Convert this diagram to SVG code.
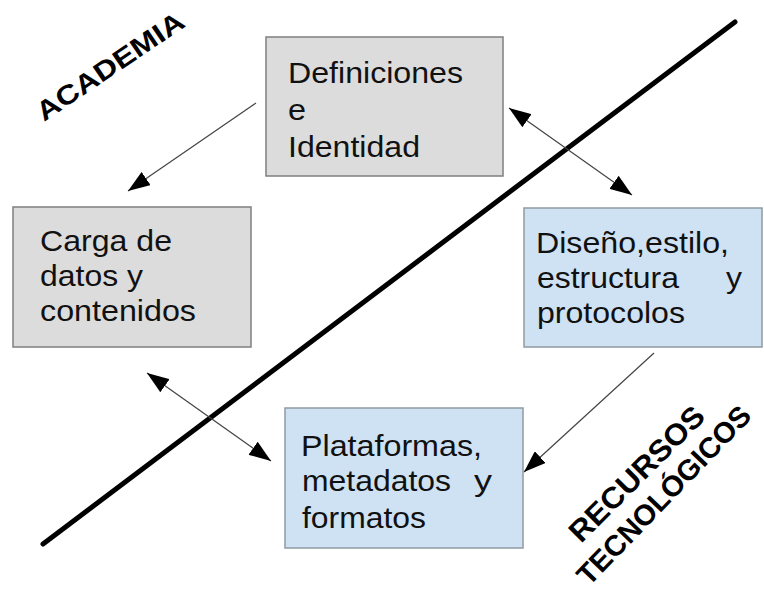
<svg xmlns="http://www.w3.org/2000/svg" width="764" height="592" viewBox="0 0 764 592">
<defs>
<style>
.box-gray{fill:#dcdcdc;stroke:#7f7f7f;stroke-width:1.5}
.box-blue{fill:#cfe2f3;stroke:#8f9aa3;stroke-width:1.5}
.t{font-family:"Liberation Sans",Arial,sans-serif;font-size:30px;fill:#111}
.lbl{font-family:"Liberation Sans",Arial,sans-serif;font-weight:bold;fill:#000}
.conn{stroke:#444;stroke-width:1.2;fill:none}
</style>
<marker id="ah" markerUnits="userSpaceOnUse" markerWidth="22" markerHeight="16" refX="22" refY="8" orient="auto-start-reverse">
<path d="M0,0 L22,8 L0,16 z" fill="#000"/>
</marker>
</defs>
<rect width="764" height="592" fill="#fff"/>
<line id="divider" x1="43" y1="544" x2="735" y2="22" stroke="#000" stroke-width="5" stroke-linecap="round"/>
<g id="connectors">
<path class="conn" d="M256,103 L128,191" marker-end="url(#ah)"/>
<path class="conn" d="M509,108 L632,195" marker-start="url(#ah)" marker-end="url(#ah)"/>
<path class="conn" d="M654,353 L524,472" marker-end="url(#ah)"/>
<path class="conn" d="M147,373 L271,461" marker-start="url(#ah)" marker-end="url(#ah)"/>
</g>
<g id="definiciones">
<rect class="box-gray" x="266" y="37" width="237" height="139"/>
<text class="t" x="288" y="83" textLength="175" lengthAdjust="spacingAndGlyphs">Definiciones</text>
<text class="t" x="288" y="120" textLength="18" lengthAdjust="spacingAndGlyphs">e</text>
<text class="t" x="288" y="157" textLength="132" lengthAdjust="spacingAndGlyphs">Identidad</text>
</g>
<g id="carga">
<rect class="box-gray" x="13" y="207" width="238" height="140"/>
<text class="t" x="40" y="251" textLength="132" lengthAdjust="spacingAndGlyphs">Carga de</text>
<text class="t" x="40" y="286" textLength="103" lengthAdjust="spacingAndGlyphs">datos y</text>
<text class="t" x="40" y="321" textLength="156" lengthAdjust="spacingAndGlyphs">contenidos</text>
</g>
<g id="diseno">
<rect class="box-blue" x="524" y="208" width="238" height="139"/>
<text class="t" x="536" y="253" textLength="193" lengthAdjust="spacingAndGlyphs">Diseño,estilo,</text>
<text class="t" x="537" y="288" textLength="142" lengthAdjust="spacingAndGlyphs">estructura</text>
<text class="t" x="726" y="288" textLength="16" lengthAdjust="spacingAndGlyphs">y</text>
<text class="t" x="537" y="323" textLength="148" lengthAdjust="spacingAndGlyphs">protocolos</text>
</g>
<g id="plataformas">
<rect class="box-blue" x="285" y="408" width="238" height="140"/>
<text class="t" x="301" y="456" textLength="181" lengthAdjust="spacingAndGlyphs">Plataformas,</text>
<text class="t" x="302" y="491" textLength="149" lengthAdjust="spacingAndGlyphs">metadatos</text>
<text class="t" x="474" y="491" textLength="18" lengthAdjust="spacingAndGlyphs">y</text>
<text class="t" x="302" y="528" textLength="124" lengthAdjust="spacingAndGlyphs">formatos</text>
</g>
<g id="academia">
<text class="lbl" transform="translate(44,122) rotate(-34)" font-size="27" textLength="172" lengthAdjust="spacingAndGlyphs">ACADEMIA</text>
</g>
<g id="recursos">
<text class="lbl" transform="translate(581,544) rotate(-45)" font-size="30" textLength="178" lengthAdjust="spacingAndGlyphs">RECURSOS</text>
<text class="lbl" transform="translate(589,587) rotate(-46)" font-size="29" textLength="236" lengthAdjust="spacingAndGlyphs">TECNOLÓGICOS</text>
</g>
</svg>
